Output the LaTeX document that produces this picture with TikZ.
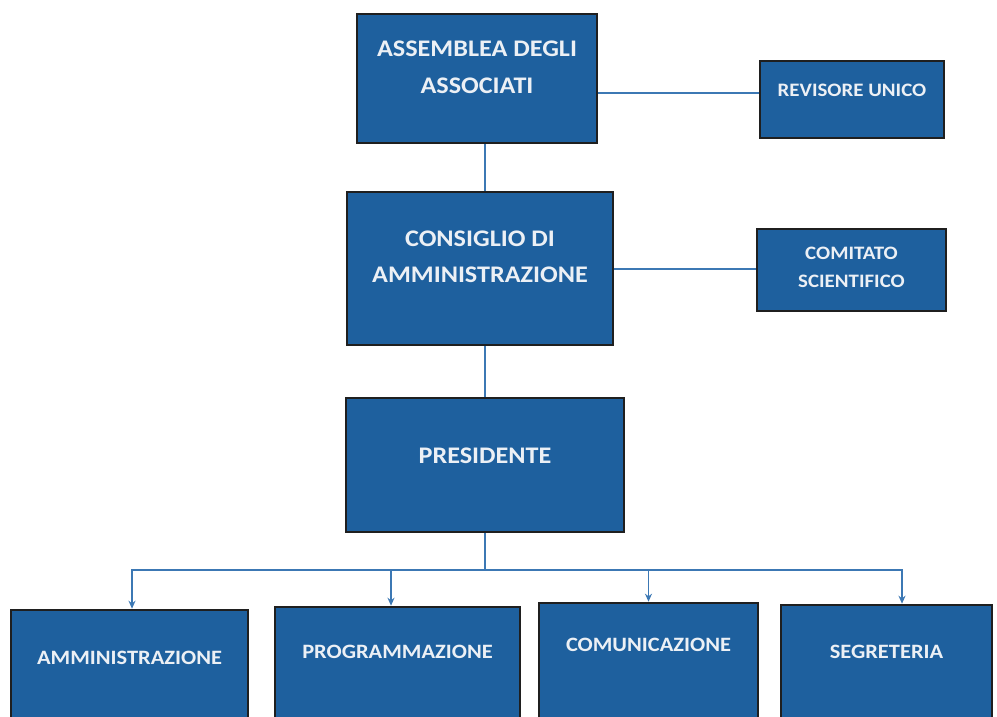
\documentclass[tikz,border=0pt]{standalone}
\usepackage{fontspec}
\setmainfont[FakeStretch=1.1]{Carlito}
\usetikzlibrary{arrows.meta,calc}
\definecolor{boxblue}{RGB}{30,96,158}
\definecolor{lineblue}{RGB}{60,120,180}
\definecolor{txt}{RGB}{236,240,245}
\tikzset{
  orgbox/.style={draw=black!88, line width=2.6pt, fill=boxblue, text=txt, inner sep=0pt, anchor=base},
  bigtxt/.style={font=\bfseries\fontsize{23.8}{37}\selectfont},
  smalltxt/.style={font=\bfseries\fontsize{19}{28}\selectfont},
  lowtxt/.style={font=\bfseries\fontsize{20.4}{24}\selectfont},
  conn/.style={draw=lineblue, line width=1.8pt},
  arr/.style={conn, -{Stealth[length=8pt,width=7pt]}}
}
\newcommand{\twolines}[2]{\begin{tabular}[t]{@{}c@{}}#1\\#2\end{tabular}}
\begin{document}
\begin{tikzpicture}[x=1pt,y=-1pt]
\useasboundingbox (0,0) rectangle (997,716);
\clip (0,0) rectangle (997,716);
\fill[white] (0,0) rectangle (997,716);
% boxes: anchored at the baseline of their first text line
\node[orgbox, bigtxt, minimum width=240pt, text height=42.5pt, text depth=86.5pt] (ass) at (477,56.5) {\twolines{ASSEMBLEA DEGLI}{ASSOCIATI}};
\node[orgbox, smalltxt, minimum width=184pt, text height=35pt, text depth=42pt] (rev) at (852,96) {REVISORE UNICO};
\node[orgbox, bigtxt, minimum width=266pt, text height=54.5pt, text depth=98.5pt] (cda) at (480,246.5) {\renewcommand{\arraystretch}{0.97}\twolines{CONSIGLIO DI}{AMMINISTRAZIONE}};
\node[orgbox, smalltxt, minimum width=189pt, text height=30pt, text depth=52pt] (com) at (851.5,259) {\twolines{COMITATO}{SCIENTIFICO}};
\node[orgbox, bigtxt, minimum width=278pt, text height=65.5pt, text depth=68.5pt] (pres) at (485,463.5) {PRESIDENTE};
\node[orgbox, lowtxt, minimum width=237pt, text height=54.5pt, text depth=120pt] (am) at (129.5,664.5) {AMMINISTRAZIONE};
\node[orgbox, lowtxt, minimum width=245pt, text height=51.5pt, text depth=120pt] (pr) at (397.5,658.5) {PROGRAMMAZIONE};
\node[orgbox, lowtxt, minimum width=219pt, text height=48.5pt, text depth=120pt] (cm) at (648.5,651.5) {COMUNICAZIONE};
\node[orgbox, lowtxt, minimum width=211pt, text height=53.5pt, text depth=120pt] (sg) at (886.5,658.5) {SEGRETERIA};
% connectors
\draw[conn] (rev.west) ++(0,-6.5) coordinate (r1) -- (r1 -| ass.east);
\draw[conn] (pres.north |- ass.south) -- (pres.north |- cda.north);
\draw[conn] (cda.east |- com.west) ++(0,-1) coordinate (c1) -- (c1 -| com.west);
\draw[conn] (pres.north |- cda.south) -- (pres.north);
\coordinate (bus) at ($(pres.south)+(0,37)$);
\draw[conn] (pres.south) -- (bus);
\draw[arr] (bus) -| ([xshift=2.5pt]am.north);
\draw[arr] (bus) -| ([xshift=-6.5pt]pr.north);
\draw[arr] (bus) -| (cm.north);
\draw[arr] (bus) -| ([xshift=15.5pt]sg.north);
\end{tikzpicture}
\end{document}
